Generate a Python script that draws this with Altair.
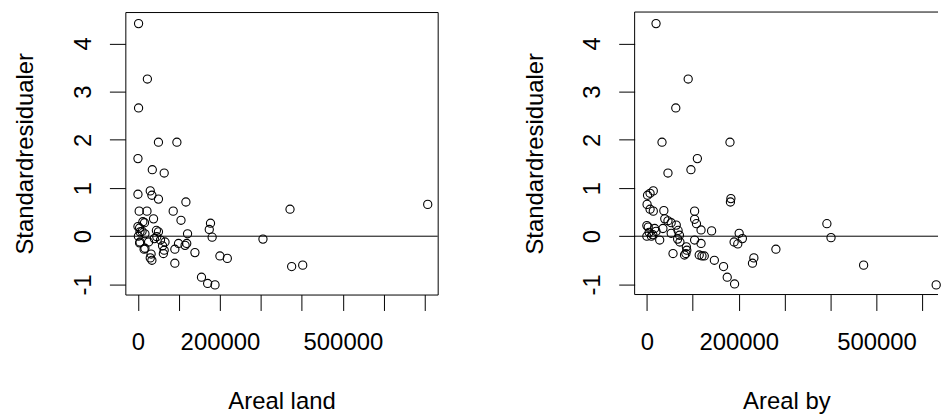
import altair as alt
import pandas as pd

# Standardised residuals against land area (km2)
land_area = [1500, 23000, 1500, 50000, 95000, 0, 35000, 64000, 0, 30000,
             34000, 50000, 117000, 371000, 707000, 3000, 22000, 86000, 38000, 105000,
             177000, 174000, 121000, 181000, 305000, 0, 4000, 16000, 5000, 17000,
             50000, 46000, 1000, 5000, 26000, 66000, 99000, 119000, 17000, 4000,
             15000, 32000, 34000, 30000, 62000, 64000, 90000, 90000, 139000, 200000,
             218000, 375000, 402000, 155000, 170000, 188000, 115000, 10000, 12000, 40000,
             45000, 55000, 60000]
land_resid = [4.41, 3.26, 2.66, 1.95, 1.95, 1.61, 1.38, 1.31, 0.87, 0.94,
              0.85, 0.77, 0.71, 0.56, 0.66, 0.52, 0.52, 0.52, 0.36, 0.33,
              0.27, 0.14, 0.05, -0.02, -0.06, 0.20, 0.17, 0.28, 0.09, 0.05,
              0.09, -0.01, 0.00, -0.12, -0.12, -0.12, -0.15, -0.15, -0.25, -0.14,
              -0.27, -0.37, -0.50, -0.45, -0.36, -0.29, -0.27, -0.56, -0.34, -0.41,
              -0.46, -0.63, -0.60, -0.85, -0.98, -1.01, -0.19, 0.10, 0.30, -0.05,
              0.12, -0.08, -0.20]

# Standardised residuals against city area
city_area = [20000, 90000, 63000, 33000, 181000, 110000, 96000, 46000, 1500, 7000,
             14000, 183000, 182000, 500, 7000, 14000, 37000, 104000, 392000, 401000,
             39000, 46000, 53000, 64000, 104000, 108000, 0, 3000, 17000, 35000,
             118000, 141000, 201000, 0, 10000, 13000, 28000, 68000, 71000, 53000,
             67000, 72000, 104000, 118000, 190000, 198000, 208000, 86000, 87000, 85000,
             57000, 82000, 114000, 120000, 125000, 281000, 147000, 233000, 230000, 167000,
             472000, 175000, 191000, 630000, 5000, 20000]
city_resid = [4.41, 3.26, 2.66, 1.95, 1.95, 1.61, 1.38, 1.31, 0.85, 0.89,
              0.94, 0.78, 0.71, 0.66, 0.56, 0.52, 0.53, 0.52, 0.26, -0.03,
              0.36, 0.32, 0.28, 0.23, 0.35, 0.26, 0.22, 0.19, 0.16, 0.16,
              0.13, 0.11, 0.06, 0.00, 0.00, 0.03, -0.08, 0.12, 0.02, 0.06,
              -0.06, -0.12, -0.08, -0.15, -0.12, -0.16, -0.05, -0.22, -0.29, -0.36,
              -0.36, -0.39, -0.39, -0.41, -0.41, -0.27, -0.50, -0.45, -0.56, -0.63,
              -0.60, -0.85, -0.99, -1.01, 0.08, 0.10]

y_ticks = [-1, 0, 1, 2, 3, 4]
x_ticks_land = [0, 100000, 200000, 300000, 400000, 500000, 600000, 700000]
x_ticks_city = [0, 100000, 200000, 300000, 400000, 500000, 600000]
labelled = [0, 200000, 500000]

FONT = "Liberation Sans"
Y_DOMAIN = [-1.21, 4.65]
PANEL_H = 284


def panel(area, resid, x_title, x_domain, x_ticks, width):
    df = pd.DataFrame({"area": area, "resid": resid})
    label_expr = ("indexof([" + ",".join(str(v) for v in labelled) +
                  "], datum.value) >= 0 ? toString(datum.value) : ''")
    x = alt.X(
        "area:Q",
        title=x_title,
        scale=alt.Scale(domain=x_domain, nice=False, zero=False),
        axis=alt.Axis(
            values=x_ticks, labelExpr=label_expr,
            tickSize=16, labelPadding=39, labelBaseline="alphabetic",
            labelFlush=False, labelOverlap=False,
            titleBaseline="alphabetic", titleY=115,
        ),
    )
    y = alt.Y(
        "resid:Q",
        title="Standardresidualer",
        scale=alt.Scale(domain=Y_DOMAIN, nice=False, zero=False),
        axis=alt.Axis(
            values=y_ticks, labelExpr="toString(datum.value)",
            tickSize=16, labelPadding=19,
            labelAngle=-90, labelAlign="center", labelBaseline="alphabetic",
            labelFlush=False, labelOverlap=False,
            titleAngle=-90, titleBaseline="alphabetic", titleX=-93,
        ),
    )
    points = alt.Chart(df).mark_point(
        shape="circle", filled=False, color="black", size=68,
        strokeWidth=1.1, opacity=1,
    ).encode(x=x, y=y)
    zero_line = alt.Chart(pd.DataFrame({"resid": [0]})).mark_rule(
        color="black", strokeWidth=1
    ).encode(y=alt.Y("resid:Q"))
    return alt.layer(points, zero_line).properties(width=width, height=PANEL_H)


left = panel(land_area, land_resid, "Areal land", [-30800, 731300],
             x_ticks_land, 314)

# The right frame runs past the page edge, so only its top, bottom and
# left sides are drawn.
RIGHT_W = 305
one = pd.DataFrame({"k": [0]})
frame_top = alt.Chart(one).mark_rule(color="black", strokeWidth=1).encode(
    x=alt.value(0), x2=alt.value(RIGHT_W), y=alt.value(0))
frame_bottom = alt.Chart(one).mark_rule(color="black", strokeWidth=1).encode(
    x=alt.value(0), x2=alt.value(RIGHT_W), y=alt.value(PANEL_H))
frame_left = alt.Chart(one).mark_rule(color="black", strokeWidth=1).encode(
    x=alt.value(0), y=alt.value(0), y2=alt.value(PANEL_H))
right = alt.layer(
    panel(city_area, city_resid, "Areal by", [-26600, 634000],
          x_ticks_city, RIGHT_W),
    frame_top, frame_bottom, frame_left,
).properties(view=alt.ViewBackground(stroke="transparent"))

# flush bounds: spacing is measured between the two plot frames
chart = (
    alt.hconcat(left, right, spacing=198, bounds="flush")
    .properties(padding={"left": 13, "top": 10, "right": 0, "bottom": 0},
                background="white")
    .configure_view(stroke="black", strokeWidth=1)
    .configure_axis(
        domain=False, grid=False,
        tickColor="black", tickWidth=1,
        labelFont=FONT, labelFontSize=24, labelColor="black",
        titleFont=FONT, titleFontSize=24, titleColor="black",
        titleFontWeight="normal",
    )
)

chart.save("out.html", embed_options={"renderer": "svg", "actions": False})
